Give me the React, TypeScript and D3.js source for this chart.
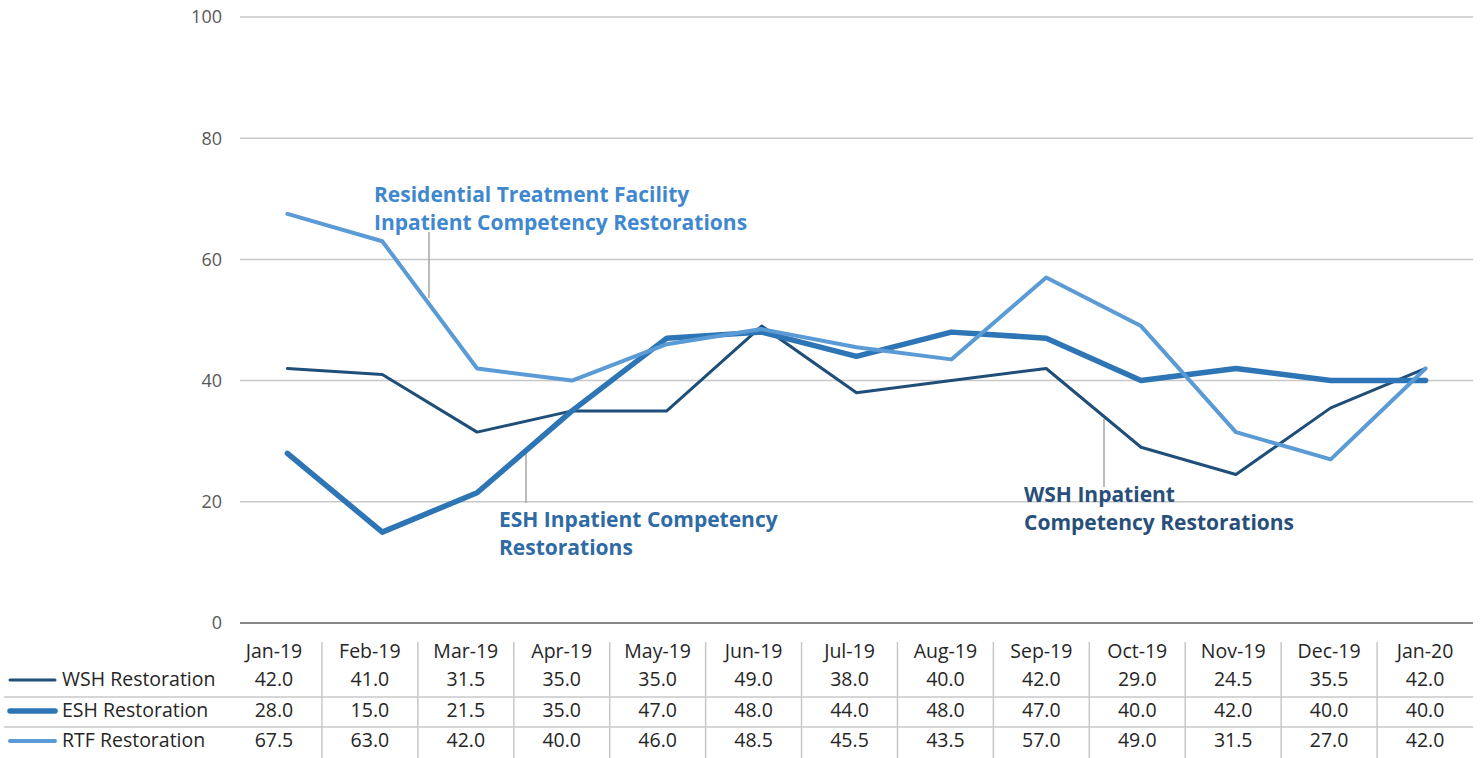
import React from "react";
import * as d3 from "d3";

const months = ["Jan-19", "Feb-19", "Mar-19", "Apr-19", "May-19", "Jun-19", "Jul-19", "Aug-19", "Sep-19", "Oct-19", "Nov-19", "Dec-19", "Jan-20"];
const wsh = [42.0, 41.0, 31.5, 35.0, 35.0, 49.0, 38.0, 40.0, 42.0, 29.0, 24.5, 35.5, 42.0];
const esh = [28.0, 15.0, 21.5, 35.0, 47.0, 48.0, 44.0, 48.0, 47.0, 40.0, 42.0, 40.0, 40.0];
const rtf = [67.5, 63.0, 42.0, 40.0, 46.0, 48.5, 45.5, 43.5, 57.0, 49.0, 31.5, 27.0, 42.0];
const yTicks = [0, 20, 40, 60, 80, 100];

const series = [
  { name: "WSH Restoration", values: wsh, color: "#1f4e79", width: 3 },
  { name: "ESH Restoration", values: esh, color: "#2e75b6", width: 5.5 },
  { name: "RTF Restoration", values: rtf, color: "#5b9bd5", width: 4 },
];

const FONT = "'Open Sans', 'Noto Sans', sans-serif";

export default function App() {
  const W = 1483, H = 758;
  const x = d3.scaleBand().domain(months).range([240, 1473]);
  const tableX = d3.scaleBand().domain(months).range([226, 1473]);
  const y = d3.scaleLinear().domain([0, 100]).range([623, 17]);
  const rowY = [686, 717, 747];

  const line = d3.line<number>()
    .x((_, i) => x(months[i])! + x.bandwidth() / 2)
    .y(d => y(d))
    .curve(d3.curveLinear);

  return (
    <svg width={W} height={H} style={{ position: "absolute", left: 0, top: 0, background: "#fff" }} fontFamily={FONT}>
      {/* gridlines */}
      {yTicks.map(t => (
        <g key={t}>
          <line x1={240} x2={1473} y1={y(t)} y2={y(t)} stroke={t === 0 ? "#888" : "#c8c8c8"} strokeWidth={t === 0 ? 2 : 1.5} />
          <text x={222} y={y(t)} dy="0.35em" textAnchor="end" fontSize={18} fill="#595959">{t}</text>
        </g>
      ))}

      {/* leader lines */}
      <line x1={429} x2={429} y1={232} y2={298} stroke="#a6a6a6" strokeWidth={1.5} />
      <line x1={526} x2={526} y1={452} y2={503} stroke="#a6a6a6" strokeWidth={1.5} />
      <line x1={1104} x2={1104} y1={419} y2={487} stroke="#a6a6a6" strokeWidth={1.5} />

      {/* series */}
      {series.map(s => (
        <path key={s.name} d={line(s.values)!} fill="none" stroke={s.color} strokeWidth={s.width} strokeLinejoin="round" strokeLinecap="round" />
      ))}

      {/* annotations */}
      <text fontSize={21} fontWeight="bold" fill="#3f88cf">
        <tspan x={374} y={202}>Residential Treatment Facility</tspan>
        <tspan x={374} y={230}>Inpatient Competency Restorations</tspan>
      </text>
      <text fontSize={21} fontWeight="bold" fill="#2e6aa5">
        <tspan x={499} y={527}>ESH Inpatient Competency</tspan>
        <tspan x={499} y={555}>Restorations</tspan>
      </text>
      <text fontSize={21} fontWeight="bold" fill="#284f7a">
        <tspan x={1024} y={502}>WSH Inpatient</tspan>
        <tspan x={1024} y={530}>Competency Restorations</tspan>
      </text>

      {/* data table */}
      {months.slice(1).map(m => (
        <line key={m} x1={tableX(m)} x2={tableX(m)} y1={642} y2={758} stroke="#c8c8c8" strokeWidth={1.5} />
      ))}
      <line x1={4} x2={1473} y1={697} y2={697} stroke="#c8c8c8" strokeWidth={1.5} />
      <line x1={4} x2={1473} y1={727} y2={727} stroke="#c8c8c8" strokeWidth={1.5} />
      {months.map(m => (
        <text key={m} x={tableX(m)! + tableX.bandwidth() / 2} y={658} textAnchor="middle" fontSize={19.5} fill="#262626">{m}</text>
      ))}
      {series.map((s, r) => (
        <g key={s.name}>
          <line x1={10} x2={55} y1={rowY[r] - 6} y2={rowY[r] - 6} stroke={s.color} strokeWidth={s.width} strokeLinecap="round" />
          <text x={62} y={rowY[r]} fontSize={19.5} fill="#262626">{s.name}</text>
          {s.values.map((v, i) => (
            <text key={i} x={tableX(months[i])! + tableX.bandwidth() / 2} y={rowY[r]} textAnchor="middle" fontSize={19.5} fill="#262626">{v.toFixed(1)}</text>
          ))}
        </g>
      ))}
    </svg>
  );
}
